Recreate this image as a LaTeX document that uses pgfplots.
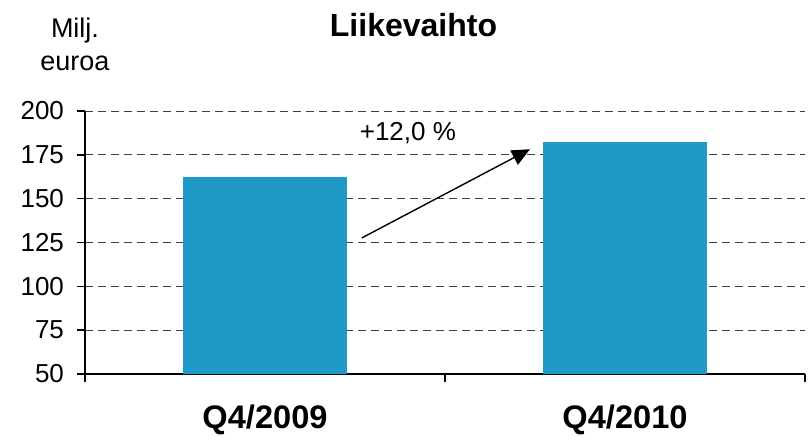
\documentclass[border=0pt]{standalone}
\usepackage{fontspec}
\setmainfont{Liberation Sans}
\usepackage{pgfplots}
\pgfplotsset{compat=1.18}
\usetikzlibrary{arrows.meta}
\definecolor{barblue}{RGB}{32,153,199}

\begin{document}
\begin{tikzpicture}
% canvas: 1 px of the reference = 0.5pt, origin at the axis' lower left corner
\useasboundingbox (-42.5pt,-35.5pt) rectangle (362.5pt,187pt);
\begin{axis}[
    at={(0,0)}, anchor=south west,
    scale only axis,
    width=360pt, height=131.5pt,
    xmin=0, xmax=2,
    ymin=50, ymax=200,
    axis lines*=left,
    axis line style={line width=0.9pt},
    xtick={0,1,2},
    xticklabels={Q4/2009,Q4/2010},
    x tick label as interval,
    ytick={50,75,100,125,150,175,200},
    tick align=outside,
    major tick length=4pt,
    tick style={black, line width=0.7pt},
    ymajorgrids,
    major grid style={black!75, line width=0.5pt, dash pattern=on 4pt off 2.5pt},
    yticklabel style={font=\fontsize{13}{15}\selectfont, xshift=-3pt},
    xticklabel style={font=\bfseries\fontsize{16.3}{18}\selectfont, yshift=-8pt},
    /pgf/number format/assume math mode=true,
    bar width=0.455,
    clip=false,
]
\addplot[ybar, fill=barblue, draw=none] coordinates {(0.5,162.3) (1.5,182.2)};
\draw[-{Triangle[length=9pt,width=8pt]}, line width=0.7pt] (axis cs:0.769,127.6) -- (axis cs:1.236,178.2);
\node[font=\fontsize{13}{15}\selectfont] at (axis cs:0.897,187.5) {+12,0 \%};
\end{axis}
\node[font=\bfseries\fontsize{16}{18}\selectfont] at (164.25pt,174.5pt) {Liikevaihto};
\node[font=\fontsize{13.5}{15}\selectfont] at (-5pt,171.5pt) {Milj.};
\node[font=\fontsize{13.5}{15}\selectfont] at (-5pt,155.5pt) {euroa};
\end{tikzpicture}
\end{document}
